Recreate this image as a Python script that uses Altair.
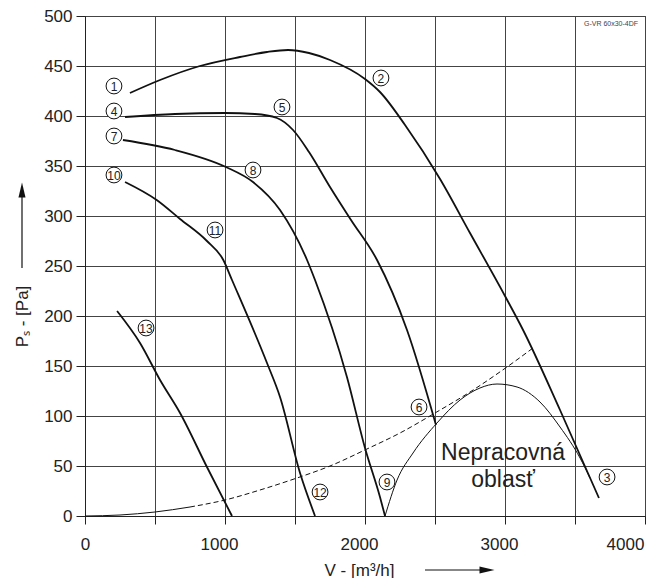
import altair as alt
import pandas as pd

# ---- fan curves (V in m3/h, Ps in Pa) ----
c1_x = [321, 536, 821, 1107, 1300, 1450, 1600, 1750, 2000, 2107, 2286, 2536, 2750, 3000, 3129, 3393, 3671]
c1_y = [423, 436, 450, 459, 464, 466, 463, 456, 437, 424, 391, 337, 283, 220, 186, 106, 18]

c2_x = [286, 643, 1000, 1214, 1371, 1486, 1600, 1750, 1900, 2086, 2300, 2507]
c2_y = [399, 402, 403, 402, 398, 386, 364, 329, 296, 256, 186, 91]

c3_x = [271, 643, 1007, 1200, 1393, 1586, 1643, 1871, 2000, 2107, 2143]
c3_y = [376, 366, 349, 334, 306, 256, 236, 139, 68, 19, 0]

c4_x = [286, 512, 679, 871, 988, 1050, 1300, 1393, 1536, 1643]
c4_y = [334, 316, 297, 275, 256, 236, 153, 119, 43, 0]

c5_x = [229, 393, 536, 679, 871, 1050]
c5_y = [205, 173, 136, 103, 49, 0]

# system curve (solid start, dashed rest)
sys_solid_x = [0, 250, 500, 750]
sys_solid_y = [0, 1, 4, 9]
sys_dash_x = [750, 1000, 1250, 1514, 1750, 2014, 2250, 2500, 2750, 3014, 3200]
sys_dash_y = [9, 16, 26, 38, 50, 67, 83, 103, 124, 149, 168]

# boundary of non-working area
nw_x = [2143, 2229, 2343, 2514, 2679, 2821, 2943, 3086, 3250, 3393, 3536, 3607]
nw_y = [0, 36, 63, 93, 116, 128, 132, 129, 114, 89, 58, 38]

# circled curve labels
lab_txt = ["1", "4", "7", "10", "5", "8", "11", "2", "13", "12", "6", "9", "3"]
lab_x = [207, 207, 207, 207, 1407, 1200, 929, 2114, 436, 1679, 2386, 2157, 3729]
lab_y = [430, 405, 380, 341, 409, 346, 286, 438, 188, 24, 109, 34, 39]

# axis ticks
x_ticks = [0, 500, 1000, 1500, 2000, 2500, 3000, 3500, 4000]
y_ticks = [0, 50, 100, 150, 200, 250, 300, 350, 400, 450, 500]

FONT = "Liberation Sans"

rows = []
for cid, xs, ys in [("a", c1_x, c1_y), ("b", c2_x, c2_y), ("c", c3_x, c3_y),
                    ("d", c4_x, c4_y), ("e", c5_x, c5_y)]:
    for i, (xv, yv) in enumerate(zip(xs, ys)):
        rows.append({"curve": cid, "i": i, "V": xv, "P": yv})
curves = pd.DataFrame(rows)

sys_s = pd.DataFrame({"V": sys_solid_x, "P": sys_solid_y})
sys_d = pd.DataFrame({"V": sys_dash_x, "P": sys_dash_y})
nw = pd.DataFrame({"V": nw_x, "P": nw_y})
labs = pd.DataFrame({"t": lab_txt, "V": lab_x, "P": lab_y})

xscale = alt.Scale(domain=[0, 4000], nice=False, zero=False)
yscale = alt.Scale(domain=[0, 500], nice=False, zero=False)

xaxis = alt.Axis(
    values=x_ticks,
    labelExpr="datum.value % 1000 == 0 ? datum.value : ''",
    labelFlush=False,
    labelOffset={"condition": [
        {"test": "datum.value == 1000", "value": -6},
        {"test": "datum.value == 2000", "value": -6},
        {"test": "datum.value == 3000", "value": -6},
        {"test": "datum.value == 4000", "value": -20}], "value": 0},
    tickSize=8, tickColor="#222", domainColor="#222",
    grid=True, gridColor="#444", gridWidth=1,
    labelFont=FONT, labelFontSize=17, labelColor="#222", labelPadding=12,
    title="V - [m³/h]", titleFont=FONT, titleFontSize=17, titleFontWeight="normal",
    titleColor="#222", titleX=274, titleY=59, titleBaseline="alphabetic", titleAlign="center",
)
yaxis = alt.Axis(
    values=y_ticks,
    tickSize=9, tickColor="#222", domainColor="#222",
    grid=True, gridColor="#444", gridWidth=1,
    labelFont=FONT, labelFontSize=17, labelColor="#222", labelPadding=4,
    title="Pₛ - [Pa]", titleFont=FONT, titleFontSize=17, titleFontWeight="normal",
    titleColor="#222", titleX=-63, titleY=300, titleBaseline="middle", titleAlign="center",
    titleAngle=270,
)

base_x = alt.X("V:Q", scale=xscale, axis=xaxis)
base_y = alt.Y("P:Q", scale=yscale, axis=yaxis)

lines = alt.Chart(curves).mark_line(color="#111", strokeWidth=1.8, interpolate="monotone").encode(
    x=base_x, y=base_y, detail="curve:N", order="i:Q")

sys1 = alt.Chart(sys_s).mark_line(color="#111", strokeWidth=1, interpolate="monotone").encode(
    x=alt.X("V:Q", scale=xscale), y=alt.Y("P:Q", scale=yscale))
sys2 = alt.Chart(sys_d).mark_line(color="#111", strokeWidth=1, strokeDash=[5, 3],
                                  interpolate="monotone").encode(
    x=alt.X("V:Q", scale=xscale), y=alt.Y("P:Q", scale=yscale))
nwl = alt.Chart(nw).mark_line(color="#111", strokeWidth=1, interpolate="monotone").encode(
    x=alt.X("V:Q", scale=xscale), y=alt.Y("P:Q", scale=yscale))

circles = alt.Chart(labs).mark_point(shape="circle", size=250, filled=True, fill="white",
                                     stroke="#111", strokeWidth=1, opacity=1).encode(
    x=alt.X("V:Q", scale=xscale), y=alt.Y("P:Q", scale=yscale))
circ_txt = alt.Chart(labs).mark_text(font=FONT, fontSize=12, color="#222",
                                     baseline="middle", align="center", dy=0.5).encode(
    x=alt.X("V:Q", scale=xscale), y=alt.Y("P:Q", scale=yscale), text="t:N")

ann = pd.DataFrame({"t": ["Nepracovná", "oblasť"], "V": [2986, 2986], "P": [63, 36]})
ann_txt = alt.Chart(ann).mark_text(font=FONT, fontSize=23, color="#222",
                                   baseline="middle", align="center").encode(
    x=alt.X("V:Q", scale=xscale), y=alt.Y("P:Q", scale=yscale), text="t:N")

model = pd.DataFrame({"t": ["G-VR 60x30-4DF"], "V": [3757], "P": [492]})
model_txt = alt.Chart(model).mark_text(font=FONT, fontSize=7, color="#444",
                                       baseline="middle", align="center").encode(
    x=alt.X("V:Q", scale=xscale), y=alt.Y("P:Q", scale=yscale), text="t:N")

# axis direction arrows (decorations)
one = pd.DataFrame({"k": [0]})
xarrow_line = alt.Chart(one).mark_rule(color="#111", strokeWidth=1.2).encode(
    x=alt.value(340), x2=alt.value(397), y=alt.value(554))
xarrow_head = alt.Chart(one).mark_point(shape="M-1,-0.47L1,0L-1,0.47Z", size=225, filled=True,
                                        color="#111", opacity=1).encode(
    x=alt.value(402), y=alt.value(554))
yarrow_line = alt.Chart(one).mark_rule(color="#111", strokeWidth=1.2).encode(
    x=alt.value(-63), y=alt.value(252), y2=alt.value(180))
yarrow_head = alt.Chart(one).mark_point(shape="M-0.47,1L0,-1L0.47,1Z", size=225, filled=True,
                                        color="#111", opacity=1).encode(
    x=alt.value(-63), y=alt.value(174))

chart = alt.layer(
    lines, sys1, sys2, nwl, circles, circ_txt, ann_txt, model_txt,
    xarrow_line, xarrow_head, yarrow_line, yarrow_head,
).properties(
    width=560, height=500,
    autosize=alt.AutoSizeParams(type="none"),
    padding={"left": 77, "top": 8, "right": 3, "bottom": 62},
).configure_view(stroke="#222", strokeWidth=1)

chart.save("out.html", embed_options={"renderer": "svg", "actions": False})
